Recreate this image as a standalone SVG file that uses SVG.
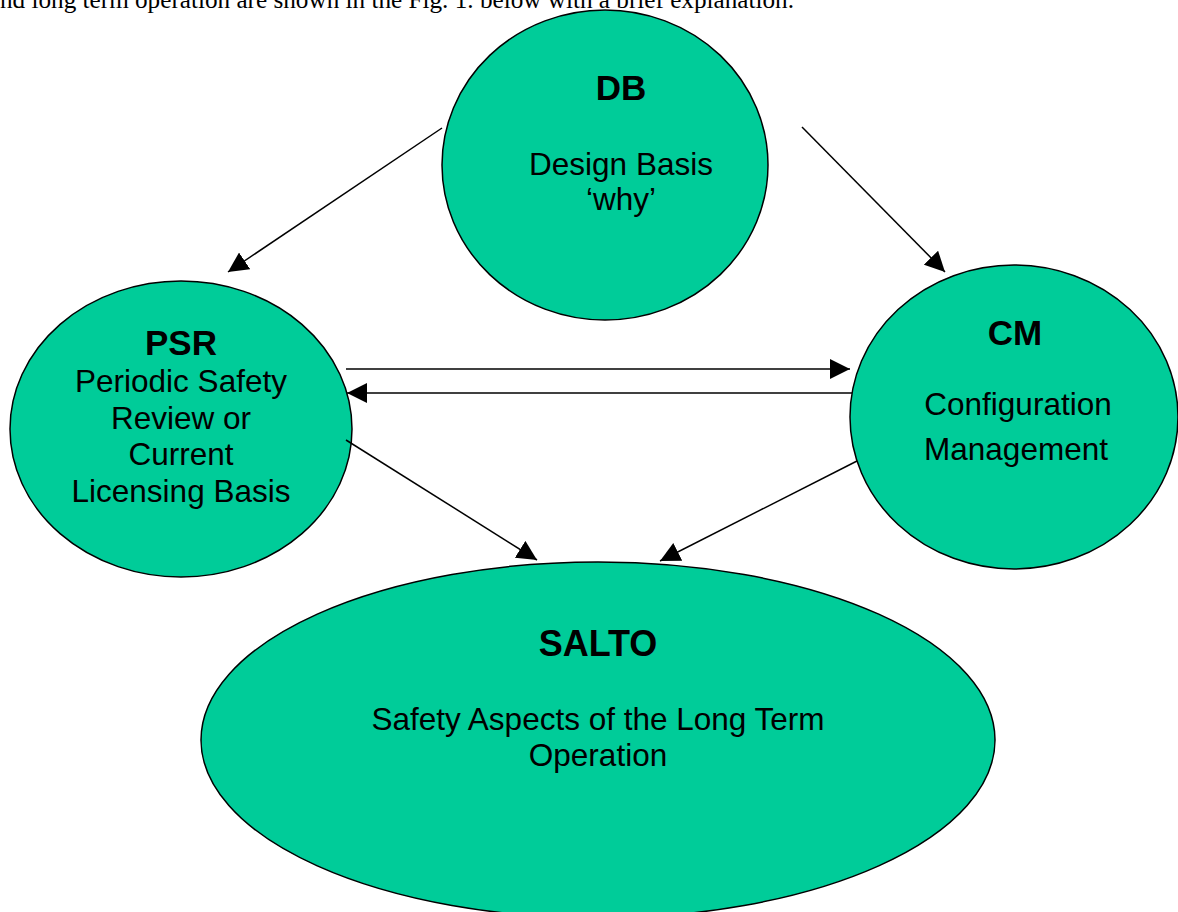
<svg xmlns="http://www.w3.org/2000/svg" width="1178" height="912" viewBox="0 0 1178 912">
  <style>
    .node { fill: #00CC99; stroke: #000; stroke-width: 1.5; }
    .title { font-family: "Liberation Sans", Arial, sans-serif; font-weight: bold; font-size: 35px; fill: #000; text-anchor: middle; }
    .label { font-family: "Liberation Sans", Arial, sans-serif; font-size: 31.5px; fill: #000; text-anchor: middle; }
    .body { font-family: "Liberation Serif", "Times New Roman", serif; font-size: 25.2px; fill: #000; }
    .link { stroke: #000; stroke-width: 1.5; fill: none; marker-end: url(#arrow); }
  </style>
  <defs>
    <marker id="arrow" markerUnits="userSpaceOnUse" markerWidth="20" markerHeight="20" refX="20" refY="10" orient="auto">
      <path d="M0,0 L20,10 L0,20 Z" fill="#000"/>
    </marker>
  </defs>
  <rect width="1178" height="912" fill="#fff"/>

  <!-- running text line above the figure -->
  <text class="body" x="0" y="8">nd long term operation are shown in the Fig. 1. below with a brief explanation.</text>

  <g id="node-db">
    <ellipse class="node" cx="605" cy="165" rx="163" ry="155"/>
    <text class="title" x="621" y="100">DB</text>
    <text class="label" x="621" y="175">Design Basis</text>
    <text class="label" x="621" y="210">‘why’</text>
  </g>

  <g id="node-psr">
    <ellipse class="node" cx="181" cy="429" rx="171" ry="148"/>
    <text class="title" x="181" y="355">PSR</text>
    <text class="label" x="181" y="392">Periodic Safety</text>
    <text class="label" x="181" y="428.5">Review or</text>
    <text class="label" x="181" y="465">Current</text>
    <text class="label" x="181" y="501.5">Licensing Basis</text>
  </g>

  <g id="node-cm">
    <ellipse class="node" cx="1014" cy="417" rx="164" ry="152"/>
    <text class="title" x="1015" y="345">CM</text>
    <text class="label" x="1018" y="415">Configuration</text>
    <text class="label" x="1016" y="460">Management</text>
  </g>

  <g id="node-salto">
    <ellipse class="node" cx="598" cy="740" rx="397" ry="178"/>
    <text class="title" x="598" y="656" style="font-size:36px">SALTO</text>
    <text class="label" x="598" y="730">Safety Aspects of the Long Term</text>
    <text class="label" x="598" y="766">Operation</text>
  </g>

  <g id="connectors">
    <line class="link" x1="442" y1="128" x2="228" y2="272"/>
    <line class="link" x1="802" y1="127" x2="945" y2="272"/>
    <line class="link" x1="346" y1="369" x2="850" y2="369"/>
    <line class="link" x1="852" y1="393" x2="347" y2="393"/>
    <line class="link" x1="346" y1="440" x2="537" y2="560"/>
    <line class="link" x1="857" y1="461" x2="660" y2="561"/>
  </g>
</svg>
